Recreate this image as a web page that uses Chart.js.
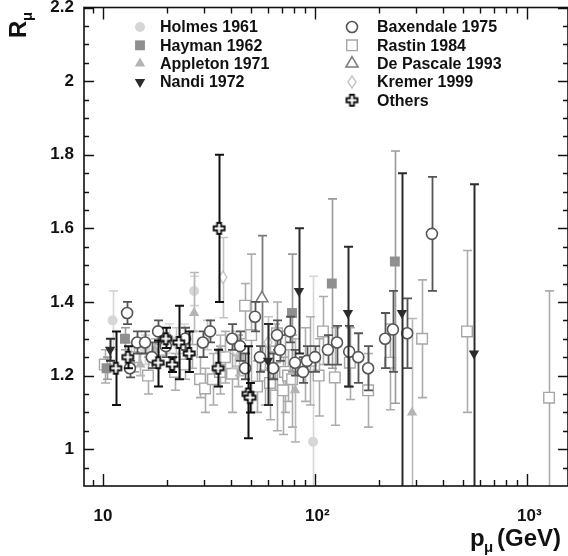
<!DOCTYPE html>
<html><head><meta charset="utf-8">
<script src="https://cdn.jsdelivr.net/npm/chart.js@4.4.0/dist/chart.umd.min.js"></script>
<style>html,body{margin:0;padding:0;background:#fff}#wrap{width:568px;height:556px;position:relative}</style>
</head><body><div id="wrap"><canvas id="c" width="568" height="556"></canvas></div>
<script>
// ---------- data (p in GeV, R = mu+/mu- ratio, error bar ends) ----------
const seriesNames = ['Holmes 1961','Hayman 1962','Appleton 1971','Nandi 1972','Baxendale 1975','Rastin 1984','De Pascale 1993','Kremer 1999','Others'];

const holmesP  = [11.1, 13.5, 15.8, 20.5, 24.0, 26.9, 97.9];
const holmesR  = [1.35, 1.25, 1.27, 1.30, 1.30, 1.43, 1.02];
const holmesLo = [1.27, 1.21, 1.23, 1.26, 1.26, 1.39, 0.80];
const holmesHi = [1.43, 1.29, 1.31, 1.34, 1.34, 1.47, 1.47];

const haymanP  = [10.4, 12.7, 77.9, 120, 238];
const haymanR  = [1.22, 1.30, 1.37, 1.45, 1.51];
const haymanLo = [1.19, 1.27, 1.21, 1.22, 1.125];
const haymanHi = [1.25, 1.33, 1.53, 1.68, 1.81];

const appletonP  = [15.0, 17.6, 26.9, 35.6, 44.0, 80.5, 287];
const appletonR  = [1.23, 1.27, 1.37, 1.27, 1.25, 1.16, 1.10];
const appletonLo = [1.20, 1.24, 1.32, 1.23, 1.20, 1.02, 0.80];
const appletonHi = [1.26, 1.30, 1.48, 1.31, 1.30, 1.30, 1.355];

const nandiP  = [10.8, 60.0, 84.0, 143, 257, 562];
const nandiR  = [1.27, 1.24, 1.43, 1.37, 1.37, 1.26];
const nandiLo = [1.24, 1.12, 1.26, 1.17, 0.80, 0.80];
const nandiHi = [1.30, 1.34, 1.60, 1.55, 1.75, 1.72];

const baxP  = [13.0, 13.4, 14.5, 15.8, 17.0, 18.2, 19.8, 24.4, 29.6, 32.0, 40.6, 44.3, 46.8, 52.1, 55.0, 63.4, 66.2, 68.4, 76.2, 80.5, 87.8, 91.7, 100, 115, 127, 145, 160, 178, 214, 233, 272, 356];
const baxR  = [1.37, 1.22, 1.29, 1.29, 1.25, 1.32, 1.28, 1.30, 1.29, 1.32, 1.30, 1.28, 1.22, 1.36, 1.25, 1.22, 1.31, 1.27, 1.32, 1.235, 1.21, 1.24, 1.25, 1.27, 1.29, 1.265, 1.25, 1.22, 1.30, 1.325, 1.315, 1.585];
const baxLo = [1.34, 1.195, 1.26, 1.26, 1.22, 1.29, 1.25, 1.27, 1.25, 1.29, 1.27, 1.24, 1.19, 1.32, 1.21, 1.19, 1.27, 1.24, 1.29, 1.20, 1.18, 1.21, 1.21, 1.23, 1.23, 1.17, 1.18, 1.16, 1.22, 1.21, 1.22, 1.43];
const baxHi = [1.40, 1.24, 1.32, 1.32, 1.29, 1.35, 1.31, 1.33, 1.32, 1.35, 1.34, 1.32, 1.26, 1.40, 1.28, 1.26, 1.35, 1.31, 1.36, 1.27, 1.25, 1.28, 1.28, 1.31, 1.335, 1.335, 1.315, 1.28, 1.37, 1.43, 1.41, 1.74];

const rastinP  = [10.2, 14.0, 16.3, 18.6, 21.9, 24.4, 26.3, 28.7, 30.3, 33.0, 35.6, 37.6, 40.6, 43.3, 46.8, 50.0, 53.3, 58.1, 61.3, 64.8, 66.2, 70.7, 72.2, 74.6, 78.0, 89.7, 95.0, 104, 109, 124, 146, 178, 226, 320, 521, 1270];
const rastinR  = [1.23, 1.25, 1.20, 1.27, 1.21, 1.23, 1.27, 1.19, 1.165, 1.19, 1.21, 1.25, 1.205, 1.24, 1.39, 1.31, 1.17, 1.20, 1.18, 1.25, 1.315, 1.16, 1.21, 1.20, 1.19, 1.23, 1.24, 1.20, 1.32, 1.195, 1.235, 1.16, 1.235, 1.30, 1.32, 1.14];
const rastinLo = [1.18, 1.21, 1.15, 1.23, 1.16, 1.19, 1.22, 1.14, 1.10, 1.12, 1.15, 1.18, 1.10, 1.17, 1.30, 1.10, 1.10, 1.12, 1.08, 1.16, 1.05, 1.04, 1.10, 1.13, 1.06, 1.13, 1.12, 1.09, 1.23, 1.065, 1.135, 1.06, 1.107, 1.14, 1.10, 0.85];
const rastinHi = [1.27, 1.29, 1.25, 1.31, 1.26, 1.27, 1.32, 1.25, 1.22, 1.26, 1.28, 1.32, 1.26, 1.31, 1.45, 1.53, 1.24, 1.28, 1.28, 1.34, 1.40, 1.25, 1.32, 1.27, 1.31, 1.33, 1.36, 1.30, 1.415, 1.33, 1.33, 1.26, 1.34, 1.46, 1.54, 1.43];

const depascaleP  = [56.2];
const depascaleR  = [1.41];
const depascaleLo = [1.24];
const depascaleHi = [1.58];

const kremerP  = [22.0, 30.9, 36.8, 42.0, 60.0];
const kremerR  = [1.29, 1.31, 1.467, 1.27, 1.29];
const kremerLo = [1.25, 1.27, 1.357, 1.22, 1.22];
const kremerHi = [1.33, 1.35, 1.575, 1.32, 1.36];

const othersP  = [11.5, 13.1, 18.2, 19.8, 21.2, 22.8, 25.5, 34.9, 35.3, 48.3, 49.4];
const othersR  = [1.22, 1.25, 1.235, 1.30, 1.23, 1.29, 1.26, 1.22, 1.60, 1.15, 1.14];
const othersLo = [1.12, 1.22, 1.17, 1.275, 1.21, 1.19, 1.21, 1.17, 1.40, 1.03, 1.10];
const othersHi = [1.32, 1.28, 1.295, 1.33, 1.25, 1.39, 1.32, 1.27, 1.80, 1.28, 1.18];

const yTickValues = [1, 1.2, 1.4, 1.6, 1.8, 2, 2.2];
const xTickValues = [10, 100, 1000];
const xTickLabels = ['10', ' 10\u00B2', ' 10\u00B3'];

// ---------- marker images ----------
function plusImg(color, size, arm, lw) {
  const c = document.createElement('canvas');
  c.width = size + 4; c.height = size + 4;
  const g = c.getContext('2d');
  const o = 2, s = size, a = arm;
  const m0 = (s - a) / 2, m1 = (s + a) / 2;
  g.beginPath();
  g.moveTo(o + m0, o); g.lineTo(o + m1, o); g.lineTo(o + m1, o + m0); g.lineTo(o + s, o + m0);
  g.lineTo(o + s, o + m1); g.lineTo(o + m1, o + m1); g.lineTo(o + m1, o + s); g.lineTo(o + m0, o + s);
  g.lineTo(o + m0, o + m1); g.lineTo(o, o + m1); g.lineTo(o, o + m0); g.lineTo(o + m0, o + m0); g.closePath();
  g.fillStyle = '#fff'; g.fill(); g.lineWidth = lw; g.strokeStyle = color; g.stroke();
  return c;
}
function diamondImg(color, w, h, lw) {
  const c = document.createElement('canvas');
  c.width = w + 4; c.height = h + 4;
  const g = c.getContext('2d');
  g.beginPath();
  g.moveTo(2 + w / 2, 2); g.lineTo(2 + w, 2 + h / 2); g.lineTo(2 + w / 2, 2 + h); g.lineTo(2, 2 + h / 2); g.closePath();
  g.fillStyle = '#fff'; g.fill(); g.lineWidth = lw; g.strokeStyle = color; g.stroke();
  return c;
}
const plusMarker = plusImg('#111', 11, 4, 1.8);
const diamondMarker = diamondImg('#bdbdbd', 8, 12, 1.3);

function pts(P, R, Lo, Hi) { return P.map((p, i) => ({x: p, y: R[i], lo: Lo[i], hi: Hi[i]})); }

const styles = [
  {data: pts(holmesP, holmesR, holmesLo, holmesHi), bar: '#d6d6d6', lw: 1.6, pointStyle: 'circle', radius: 5, bg: '#d6d6d6', bc: '#d6d6d6', bw: 0, order: 8},
  {data: pts(haymanP, haymanR, haymanLo, haymanHi), bar: '#9a9a9a', lw: 1.6, pointStyle: 'rect', radius: 7, bg: '#8f8f8f', bc: '#8f8f8f', bw: 0, order: 4},
  {data: pts(appletonP, appletonR, appletonLo, appletonHi), bar: '#b8b8b8', lw: 1.6, pointStyle: 'triangle', radius: 6, bg: '#b4b4b4', bc: '#b4b4b4', bw: 0, order: 5},
  {data: pts(nandiP, nandiR, nandiLo, nandiHi), bar: '#2b2b2b', lw: 2, pointStyle: 'triangle', rotation: 180, radius: 6, bg: '#2b2b2b', bc: '#2b2b2b', bw: 0, order: 1},
  {data: pts(baxP, baxR, baxLo, baxHi), bar: '#555555', lw: 1.8, pointStyle: 'circle', radius: 5.5, bg: '#ffffff', bc: '#555555', bw: 1.6, order: 2},
  {data: pts(rastinP, rastinR, rastinLo, rastinHi), bar: '#acacac', lw: 1.6, pointStyle: 'rect', radius: 7.5, bg: '#ffffff', bc: '#a6a6a6', bw: 1.4, order: 7},
  {data: pts(depascaleP, depascaleR, depascaleLo, depascaleHi), bar: '#7a7a7a', lw: 1.8, pointStyle: 'triangle', radius: 7, bg: '#ffffff', bc: '#7a7a7a', bw: 1.5, order: 3},
  {data: pts(kremerP, kremerR, kremerLo, kremerHi), bar: '#c4c4c4', lw: 1.6, pointStyle: diamondMarker, radius: 6, bg: '#ffffff', bc: '#bdbdbd', bw: 1.3, order: 6},
  {data: pts(othersP, othersR, othersLo, othersHi), bar: '#111111', lw: 2, pointStyle: plusMarker, radius: 6, bg: '#ffffff', bc: '#111111', bw: 1.8, order: 0}
];

const datasets = styles.map((s, i) => ({
  label: seriesNames[i], data: s.data, order: s.order,
  pointStyle: s.pointStyle, pointRadius: s.radius, pointRotation: s.rotation || 0,
  pointBackgroundColor: s.bg, pointBorderColor: s.bc, pointBorderWidth: s.bw,
  showLine: false, barColor: s.bar, barWidth: s.lw
}));

const FONT = "'Liberation Sans', Arial, Helvetica, sans-serif";

// ---------- plugins ----------
const errorBars = {
  id: 'errorBars',
  beforeDatasetDraw(chart, args) {
    const ds = chart.data.datasets[args.index];
    const xs = chart.scales.x, ys = chart.scales.y, ca = chart.chartArea;
    const ctx = chart.ctx;
    ctx.save();
    ctx.beginPath(); ctx.rect(ca.left, ca.top, ca.right - ca.left, ca.bottom - ca.top); ctx.clip();
    ctx.strokeStyle = ds.barColor; ctx.lineWidth = ds.barWidth;
    ds.data.forEach(d => {
      const px = Math.round(xs.getPixelForValue(d.x)) + 0.5;
      const yl = ys.getPixelForValue(d.lo), yh = ys.getPixelForValue(d.hi);
      ctx.beginPath();
      ctx.moveTo(px, yl); ctx.lineTo(px, yh);
      ctx.moveTo(px - 4.5, yh); ctx.lineTo(px + 4.5, yh);
      ctx.moveTo(px - 4.5, yl); ctx.lineTo(px + 4.5, yl);
      ctx.stroke();
    });
    ctx.restore();
  }
};

const frame = {
  id: 'frame',
  afterDraw(chart) {
    const ctx = chart.ctx, ca = chart.chartArea, xs = chart.scales.x, ys = chart.scales.y;
    ctx.save();
    ctx.strokeStyle = '#111'; ctx.lineWidth = 1.6;
    ctx.strokeRect(ca.left, ca.top, ca.right - ca.left, ca.bottom - ca.top);
    ctx.lineWidth = 1.4;
    ctx.beginPath();
    for (let k = 18; k <= 44; k++) {
      const v = k * 0.05;
      const py = Math.round(ys.getPixelForValue(v)) + 0.5;
      if (py < ca.top + 1 || py > ca.bottom - 1) continue;
      const major = (k % 4 === 0);
      const L = major ? 10 : 5;
      ctx.moveTo(ca.left, py); ctx.lineTo(ca.left + L, py);
      ctx.moveTo(ca.right, py); ctx.lineTo(ca.right - L, py);
    }
    for (let dec = 1; dec <= 1000; dec *= 10) {
      for (let m = 1; m <= 9; m++) {
        const v = m * dec;
        if (v < xs.min || v > xs.max) continue;
        const px = Math.round(xs.getPixelForValue(v)) + 0.5;
        const L = m === 1 ? 12 : 6;
        ctx.moveTo(px, ca.bottom); ctx.lineTo(px, ca.bottom - L);
        ctx.moveTo(px, ca.top); ctx.lineTo(px, ca.top + L);
      }
    }
    ctx.stroke();
    ctx.restore();

    // axis titles
    ctx.save();
    ctx.fillStyle = '#111';
    ctx.translate(26, 38);
    ctx.rotate(-Math.PI / 2);
    ctx.font = 'bold 24px ' + FONT;
    ctx.textBaseline = 'alphabetic';
    ctx.fillText('R', 0, 0);
    ctx.font = 'bold 15px ' + FONT;
    ctx.fillText('\u03BC', 17, 6);
    ctx.restore();

    ctx.save();
    ctx.fillStyle = '#111';
    ctx.textBaseline = 'alphabetic';
    ctx.font = 'bold 24px ' + FONT;
    ctx.fillText('p', 470, 546);
    ctx.font = 'bold 15px ' + FONT;
    ctx.fillText('\u03BC', 484, 552);
    ctx.font = 'bold 24px ' + FONT;
    ctx.fillText('(GeV)', 497, 546);
    ctx.restore();

    // legend
    const cols = [{mx: 140, tx: 160, idx: [0, 1, 2, 3]}, {mx: 352, tx: 377, idx: [4, 5, 6, 7, 8]}];
    ctx.save();
    ctx.font = 'bold 16px ' + FONT;
    ctx.textBaseline = 'middle';
    cols.forEach(col => {
      col.idx.forEach((di, r) => {
        const y = 27 + r * 18.3;
        const ds = chart.data.datasets[di];
        ctx.save();
        ctx.fillStyle = ds.pointBackgroundColor;
        ctx.strokeStyle = ds.pointBorderColor;
        ctx.lineWidth = ds.pointBorderWidth;
        Chart.helpers.drawPoint(ctx, {pointStyle: ds.pointStyle, radius: ds.pointRadius, rotation: ds.pointRotation, borderWidth: ds.pointBorderWidth}, col.mx, y);
        ctx.restore();
        ctx.fillStyle = '#111';
        ctx.fillText(ds.label, col.tx, y + 1);
      });
    });
    ctx.restore();
  }
};

new Chart(document.getElementById('c'), {
  type: 'scatter',
  data: {datasets},
  options: {
    responsive: false, animation: false, devicePixelRatio: 1,
    layout: {autoPadding: false, padding: {top: 7.5, right: 0, left: 0, bottom: 0}},
    plugins: {legend: {display: false}, tooltip: {enabled: false}},
    scales: {
      x: {
        type: 'logarithmic', min: 8.14, max: 1560,
        grid: {display: false, drawTicks: false}, border: {display: false},
        ticks: {color: '#111', font: {family: FONT, size: 17, weight: 'bold'}, padding: 20, maxRotation: 0, autoSkip: false,
          callback: (v) => { const i = xTickValues.indexOf(v); return i >= 0 ? xTickLabels[i] : ''; }},
        afterBuildTicks: (s) => { s.ticks = xTickValues.map(v => ({value: v})); },
        afterFit: (s) => { s.height = 70; s.paddingLeft = 0; s.paddingRight = 0; }
      },
      y: {
        type: 'linear', min: 0.9, max: 2.2,
        grid: {display: false, drawTicks: false}, border: {display: false},
        ticks: {color: '#111', font: {family: FONT, size: 17, weight: 'bold'}, padding: 10,
          callback: (v) => String(Number(v.toFixed(1)))},
        afterBuildTicks: (s) => { s.ticks = yTickValues.map(v => ({value: v})); },
        afterFit: (s) => { s.width = 84; s.paddingTop = 0; s.paddingBottom = 0; }
      }
    }
  },
  plugins: [errorBars, frame]
});
</script>
</body></html>
